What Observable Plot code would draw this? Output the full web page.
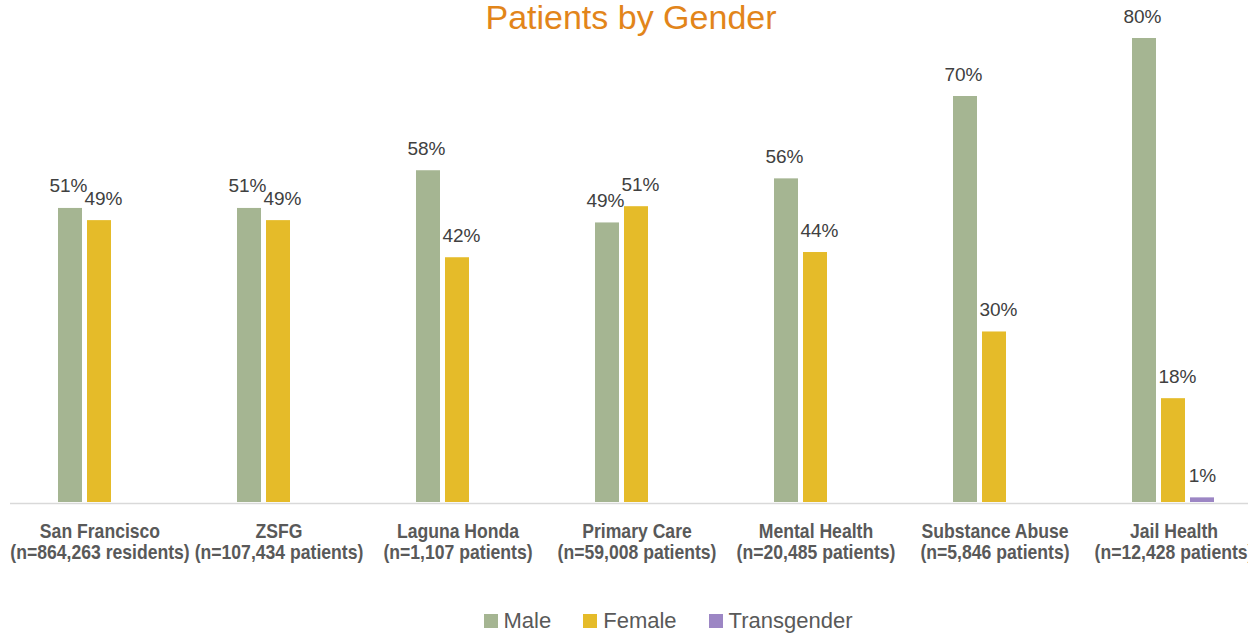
<!DOCTYPE html>
<html>
<head>
<meta charset="utf-8">
<script src="https://cdn.jsdelivr.net/npm/d3@7"></script>
<script src="https://cdn.jsdelivr.net/npm/@observablehq/plot@0.6"></script>
<style>
  html, body { margin: 0; padding: 0; background: #fff; overflow: hidden; width: 1248px; height: 639px; }
  #wrap { position: relative; width: 1248px; height: 639px; overflow: hidden; }
  #title { position: absolute; top: -2px; left: 14px; width: 1234px; text-align: center;
           font-family: "Liberation Sans", Arial, sans-serif; font-size: 34px; color: #E2851A; white-space: nowrap; }
  #chart { position: absolute; top: 0; left: 0; width: 1265px; }
  #chart svg { max-width: none !important; }
  #legend { position: absolute; top: 608px; left: 0; width: 1248px; display: flex; justify-content: center;
            padding-left: 88px; box-sizing: border-box;
            font-family: "Liberation Sans", Arial, sans-serif; font-size: 22px; color: #595959; }
  .item { display: flex; align-items: center; margin: 0 16px; }
  .sw { width: 14px; height: 14px; margin-right: 6px; }
</style>
</head>
<body>
<div id="wrap">
  <div id="chart"></div>
  <div id="title">Patients by Gender</div>
  <div id="legend"></div>
</div>
<script>
const categories = ["San Francisco", "ZSFG", "Laguna Honda", "Primary Care", "Mental Health", "Substance Abuse", "Jail Health"];
const counts = ["(n=864,263 residents)", "(n=107,434 patients)", "(n=1,107 patients)", "(n=59,008 patients)", "(n=20,485 patients)", "(n=5,846 patients)", "(n=12,428 patients)"];
const genders = ["Male", "Female", "Transgender"];
const colors = ["#A5B592", "#E5BB29", "#9C86C4"];
const male = [50.7, 50.7, 57.2, 48.2, 55.8, 70.0, 80.0];
const female = [48.6, 48.6, 42.2, 51.0, 43.1, 29.4, 17.9];
const transgender = [null, null, null, null, null, null, 0.8];
const maleLabels = ["51%", "51%", "58%", "49%", "56%", "70%", "80%"];
const femaleLabels = ["49%", "49%", "42%", "51%", "44%", "30%", "18%"];
const transLabels = [null, null, null, null, null, null, "1%"];

const rows = [];
categories.forEach((c, i) => {
  rows.push({cat: c, gender: "Male", value: male[i], label: maleLabels[i]});
  rows.push({cat: c, gender: "Female", value: female[i], label: femaleLabels[i]});
  if (transgender[i] != null) rows.push({cat: c, gender: "Transgender", value: transgender[i], label: transLabels[i]});
});

const labelOpts = {fx: "cat", x: "gender", y: "value", text: "label", lineAnchor: "bottom",
  dy: -16, fontSize: 19, fill: "#404040", fontFamily: "Liberation Sans, Arial, sans-serif"};
const labelDx = {Male: -2, Female: 4, Transgender: 0};

const chart = Plot.plot({
  width: 1265,
  height: 600,
  marginTop: 38,
  marginBottom: 98,
  marginLeft: 8,
  marginRight: 0,
  style: {background: "transparent", overflow: "visible", maxWidth: "none"},
  fx: {domain: categories, padding: 0, label: null},
  x: {domain: genders, paddingInner: 0.1667, paddingOuter: 1.576, axis: null},
  y: {domain: [0, 80], axis: null},
  color: {domain: genders, range: colors},
  marks: [
    Plot.barY(rows, {fx: "cat", x: "gender", y: "value", fill: "gender"}),
    Plot.ruleY([0], {stroke: "#D9D9D9", strokeWidth: 1.5, dy: 1}),
    ...genders.map(g => Plot.text(rows.filter(d => d.gender === g), {...labelOpts, dx: labelDx[g]})),
    Plot.axisFx({anchor: "bottom", tickSize: 0, tickPadding: 21, label: null, ariaLabel: "fx-axis tick label",
      tickFormat: c => c + "\n" + counts[categories.indexOf(c)],
      fontSize: 20, fontWeight: "bold", fill: "#595959", lineHeight: 1.05,
      fontFamily: "Liberation Sans, Arial, sans-serif"})
  ]
});
document.getElementById("chart").appendChild(chart);

// condense the category labels (narrow face is not installed)
const s = 0.88;
chart.querySelectorAll('g[aria-label^="fx-axis"] text').forEach(t => {
  const tr = t.getAttribute("transform");
  if (tr) {
    t.setAttribute("transform", tr + ` scale(${s},1)`);
  } else {
    const x = +t.getAttribute("x") || 0;
    t.setAttribute("transform", `translate(${x * (1 - s)},0) scale(${s},1)`);
  }
});

const legend = document.getElementById("legend");
genders.forEach((g, i) => {
  const item = document.createElement("div");
  item.className = "item";
  const sw = document.createElement("div");
  sw.className = "sw";
  sw.style.background = colors[i];
  const t = document.createElement("span");
  t.textContent = g;
  item.appendChild(sw);
  item.appendChild(t);
  legend.appendChild(item);
});
</script>
</body>
</html>
